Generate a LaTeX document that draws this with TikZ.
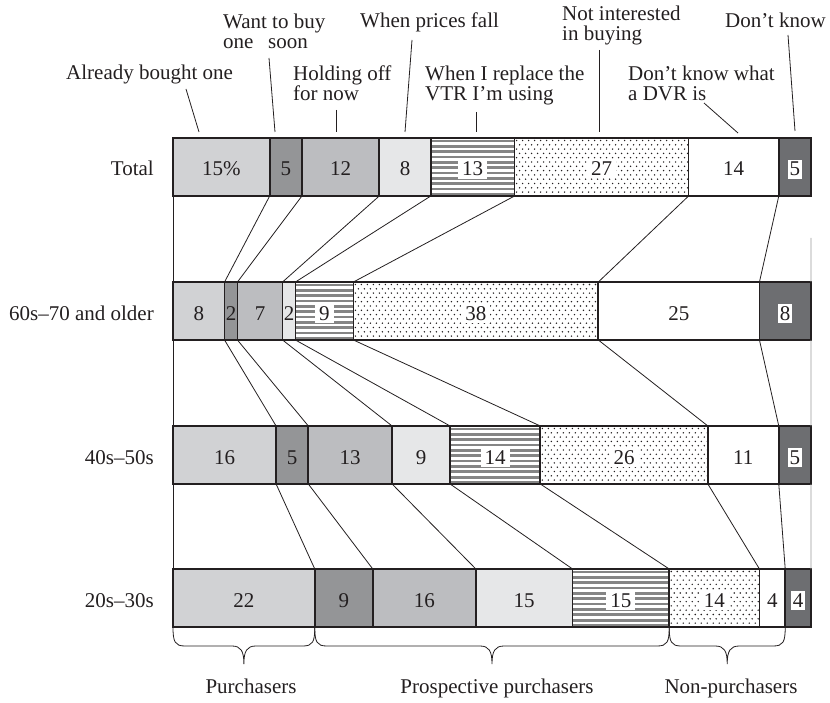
\documentclass[tikz,border=0pt]{standalone}
\usepackage{fontspec}
\setmainfont{Liberation Serif}
\usetikzlibrary{calc}
\definecolor{cA}{HTML}{D1D2D4}
\definecolor{cB}{HTML}{949597}
\definecolor{cC}{HTML}{BCBDC0}
\definecolor{cD}{HTML}{E6E7E8}
\definecolor{cS}{HTML}{858585}
\definecolor{cK}{HTML}{6D6E71}
\definecolor{ink}{HTML}{231F20}
\newcommand{\mkcell}[5]{\node[cellbox,#5,minimum width={#4*6.44444pt}] (#1) at ({173+#3*6.44444},#2) {};}
\newcommand{\mknum}[3]{\node[#3] (#1n) at ([yshift=-38pt]#1.north) {#2};}
\newcommand{\bracebelow}[2]{\draw[bracel] let \p1=(#1), \p2=(#2), \p3=($(#1)!0.5!(#2)$) in
 (\x1,\y1) .. controls (\x1,\y1-15pt) and (\x1+2pt,\y1-19pt) .. (\x1+12pt,\y1-19pt)
 -- (\x3-12pt,\y1-19pt) .. controls (\x3-3pt,\y1-19pt) and (\x3,\y1-24pt) .. (\x3,\y1-37pt)
 .. controls (\x3,\y1-24pt) and (\x3+3pt,\y1-19pt) .. (\x3+12pt,\y1-19pt)
 -- (\x2-12pt,\y1-19pt) .. controls (\x2-2pt,\y1-19pt) and (\x2,\y1-15pt) .. (\x2,\y1);}
\begin{document}
\begin{tikzpicture}[x=1pt,y=-1pt,
  font=\fontsize{21}{20}\selectfont, text=ink,
  cellbox/.style={draw=ink, line width=1.8pt, anchor=north west, minimum height=58pt, inner sep=0pt, outer sep=0pt},
  fA/.style={fill=cA}, fB/.style={fill=cB}, fC/.style={fill=cC}, fD/.style={fill=cD},
  fW/.style={fill=white}, fK/.style={fill=cK},
  stripes/.style={fill=white, path picture={\foreach \k in {0,...,10} {\draw[cS, line width=2.7pt] ([yshift={-3pt-\k*5.35pt}]path picture bounding box.north west) -- ([yshift={-3pt-\k*5.35pt}]path picture bounding box.north east);}}},
  dotfill/.style={fill=white, path picture={\foreach \j in {0,...,13} {\foreach \i in {0,...,42} {\fill[ink] ([xshift={\i*6pt+mod(\j,2)*3pt+2pt},yshift={-\j*4.3pt-2.5pt}]path picture bounding box.north west) circle[radius=0.8pt];}}}},
  num/.style={anchor=base, inner sep=0pt},
  numw/.style={num, fill=white, inner xsep=4pt, inner ysep=2.5pt},
  numd/.style={num, fill=white, inner xsep=2pt, inner ysep=2.5pt},
  conn/.style={draw=ink, line width=0.8pt},
  edgeR/.style={draw=gray!80, line width=0.8pt},
  leader/.style={draw=ink, line width=0.8pt},
  lab/.style={inner sep=0pt, align=left, anchor=north west},
  rowlab/.style={inner sep=0pt, anchor=base east},
  bracel/.style={draw=ink, line width=0.8pt},
  grp/.style={inner sep=0pt, anchor=base}]
\useasboundingbox (0,0) rectangle (830,703);

% ---- Total row
\mkcell{t1}{138}{0}{15}{fA}
\mkcell{t2}{138}{15}{5}{fB}
\mkcell{t3}{138}{20}{12}{fC}
\mkcell{t4}{138}{32}{8}{fD}
\mkcell{t5}{138}{40}{13}{stripes}
\mkcell{t6}{138}{53}{27}{dotfill}
\mkcell{t7}{138}{80}{14}{fW}
\mkcell{t8}{138}{94}{5}{fK}
% ---- 60s row
\mkcell{s1}{282}{0}{8}{fA}
\mkcell{s2}{282}{8}{2}{fB}
\mkcell{s3}{282}{10}{7}{fC}
\mkcell{s4}{282}{17}{2}{fD}
\mkcell{s5}{282}{19}{9}{stripes}
\mkcell{s6}{282}{28}{38}{dotfill}
\mkcell{s7}{282}{66}{25}{fW}
\mkcell{s8}{282}{91}{8}{fK}
% ---- 40s row
\mkcell{f1}{426}{0}{16}{fA}
\mkcell{f2}{426}{16}{5}{fB}
\mkcell{f3}{426}{21}{13}{fC}
\mkcell{f4}{426}{34}{9}{fD}
\mkcell{f5}{426}{43}{14}{stripes}
\mkcell{f6}{426}{57}{26}{dotfill}
\mkcell{f7}{426}{83}{11}{fW}
\mkcell{f8}{426}{94}{5}{fK}
% ---- 20s row
\mkcell{w1}{569}{0}{22}{fA}
\mkcell{w2}{569}{22}{9}{fB}
\mkcell{w3}{569}{31}{16}{fC}
\mkcell{w4}{569}{47}{15}{fD}
\mkcell{w5}{569}{62}{15}{stripes}
\mkcell{w6}{569}{77}{14}{dotfill}
\mkcell{w7}{569}{91}{4}{fW}
\mkcell{w8}{569}{95}{4}{fK}

% ---- numbers
\mknum{t1}{15\%}{num}\mknum{t2}{5}{num}\mknum{t3}{12}{num}\mknum{t4}{8}{num}
\mknum{t5}{13}{numw}\mknum{t6}{27}{numw}\mknum{t7}{14}{num}\mknum{t8}{5}{numd}
\mknum{s1}{8}{num}\mknum{s2}{2}{num}\mknum{s3}{7}{num}\mknum{s4}{2}{num}
\mknum{s5}{9}{numw}\mknum{s6}{38}{numw}\mknum{s7}{25}{num}\mknum{s8}{8}{numd}
\mknum{f1}{16}{num}\mknum{f2}{5}{num}\mknum{f3}{13}{num}\mknum{f4}{9}{num}
\mknum{f5}{14}{numw}\mknum{f6}{26}{numw}\mknum{f7}{11}{num}\mknum{f8}{5}{numd}
\mknum{w1}{22}{num}\mknum{w2}{9}{num}\mknum{w3}{16}{num}\mknum{w4}{15}{num}
\mknum{w5}{15}{numw}\mknum{w6}{14}{numw}\mknum{w7}{4}{num}\mknum{w8}{4}{numd}

% ---- connectors between rows
\foreach \k in {1,...,7} {
  \draw[conn] (t\k.south east) -- (s\k.north east);
  \draw[conn] (s\k.south east) -- (f\k.north east);
  \draw[conn] (f\k.south east) -- (w\k.north east);
}
\draw[conn] (t1.south west) -- (s1.north west);
\draw[conn] (s1.south west) -- (f1.north west);
\draw[conn] (f1.south west) -- (w1.north west);
\draw[edgeR] ([yshift=-42pt]t8.south east) -- (s8.north east);
\draw[edgeR] (s8.south east) -- (f8.north east);
\draw[edgeR] (f8.south east) -- (w8.north east);

% ---- row labels
\node[rowlab] (rT) at ([xshift=-19pt,yshift=-38pt]t1.north west) {Total};
\node[rowlab] (rS) at ([xshift=-19pt,yshift=-38pt]s1.north west) {60s–70 and older};
\node[rowlab] (rF) at ([xshift=-19pt,yshift=-38pt]f1.north west) {40s–50s};
\node[rowlab] (rW) at ([xshift=-19pt,yshift=-38pt]w1.north west) {20s–30s};

% ---- top labels
\node[inner sep=0pt, anchor=base west] (L1) at (66,80) {Already bought one};
\node[lab] (L2) at (223,13.7) {Want to buy\\one\hspace{0.7em}soon};
\node[lab] (L3) at (293,65.7) {Holding off\\for now};
\node[inner sep=0pt, anchor=base west] (L4) at (360,28) {When prices fall};
\node[lab] (L5) at (425,65.7) {When I replace the\\VTR I’m using};
\node[lab] (L6) at (562,5.7) {Not interested\\in buying};
\node[lab] (L7) at (628,65.7) {Don’t know what\\a DVR is};
\node[inner sep=0pt, anchor=base west] (L8) at (725,28) {Don’t know};

% ---- leader lines
\coordinate (a1) at (186,89);  \coordinate (b1) at (199,132);
\coordinate (a2) at (269,58);  \coordinate (b2) at (275,132);
\coordinate (a3) at (336,110); \coordinate (b3) at (336,132);
\coordinate (a4) at (412,40);  \coordinate (b4) at (405,132);
\coordinate (a5) at (476,112); \coordinate (b5) at (476,132);
\coordinate (a6) at (599,50);  \coordinate (b6) at (599,132);
\coordinate (a7) at (704,103); \coordinate (b7) at (738,133);
\coordinate (a8) at (788,35);  \coordinate (b8) at (795,131);
\foreach \k in {1,...,8} {\draw[leader] (a\k) -- (b\k);}

% ---- braces and group labels
\bracebelow{w1.south west}{w1.south east}
\bracebelow{w2.south west}{w5.south east}
\bracebelow{w6.south west}{w7.south east}
\node[grp] (g1) at (251,693) {Purchasers};
\node[grp] (g2) at (497,693) {Prospective purchasers};
\node[grp] (g3) at (731,693) {Non-purchasers};
\end{tikzpicture}
\end{document}
